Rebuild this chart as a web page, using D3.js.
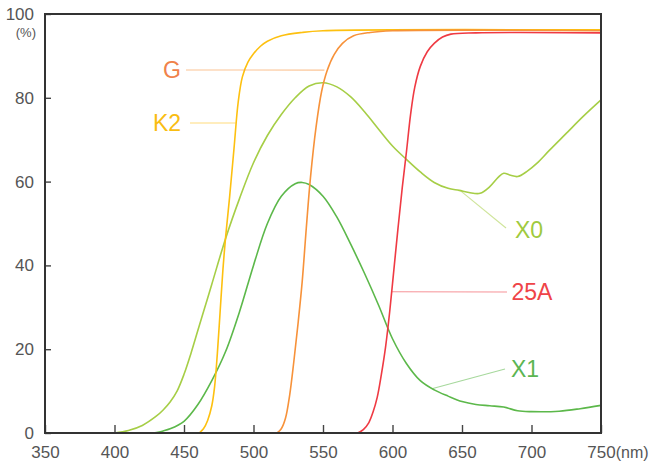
<!DOCTYPE html>
<html>
<head>
<meta charset="utf-8">
<script src="https://cdn.jsdelivr.net/npm/d3@7"></script>
<style>
  body { margin: 0; background: #fff; }
  svg { display: block; font-family: "Liberation Sans", Arial, sans-serif; }
</style>
</head>
<body>
<script>
// transmittance curves, [wavelength nm, %]
var seriesX0 = [[400,0],[410,0.6],[420,1.8],[430,4],[435,5.5],[440,7.4],[445,10],[450,14],[455,19],[460,24.5],[465,30],[470,35.5],[480,46.5],[490,56],[500,64.5],[510,71],[520,76],[530,80],[540,82.8],[550,83.6],[560,82.6],[570,80.2],[580,76.6],[590,72.5],[600,68.5],[610,65.3],[620,62.3],[630,59.8],[640,58.4],[648,57.9],[655,57.4],[663,57.2],[670,58.8],[676,61],[680,62],[685,61.5],[690,61.2],[697,62.5],[704,64.4],[713,67.5],[725,71.5],[737,75.5],[750,79.5]];
var seriesX1 = [[428,0],[435,0.5],[440,1],[450,2.8],[460,6.8],[470,12.5],[480,19.5],[490,29],[500,40],[510,50],[520,56.5],[530,59.5],[535,59.8],[540,59.3],[550,56.5],[560,51.5],[570,45],[580,38],[590,30.5],[600,22.5],[610,16.6],[620,12.5],[630,10.3],[640,8.8],[650,7.5],[660,6.8],[670,6.5],[680,6.2],[690,5.3],[700,5.1],[720,5.2],[735,5.8],[750,6.6]];
var seriesK2 = [[461,0],[464,1],[467,3],[470,6.5],[472,11],[474,19],[476,29],[478,39],[480,47],[483,57],[486,68],[489,79],[492,85],[496,88.5],[500,90.5],[505,92.3],[510,93.5],[520,94.8],[535,95.6],[550,96],[750,96.2]];
var seriesG = [[517,0],[520,1],[523,3.5],[526,9],[529,17],[532,26],[535,36],[538,49],[541,61],[545,73],[549,81.5],[553,86.5],[558,90.3],[564,93],[572,94.8],[584,95.6],[600,96],[750,96]];
var series25A = [[575,0],[579,0.8],[583,2.5],[586,5],[589,8.5],[592,14],[595,20.5],[598,29],[601,39],[604,49],[607,58.5],[610,67],[613,76],[616,82.5],[620,87.5],[625,91],[630,93],[636,94.5],[642,95.2],[660,95.5],[750,95.5]];

var seriesNames = ["X0", "X1", "K2", "G", "25A"];
var xTicks = [350, 400, 450, 500, 550, 600, 650, 700, 750];
var yTicks = [0, 20, 40, 60, 80, 100];

var width = 661, height = 467;

var svg = d3.select("body").append("svg")
    .attr("width", width)
    .attr("height", height);

var x = d3.scaleLinear().domain([350, 750]).range([45, 601]);
var y = d3.scaleLinear().domain([0, 100]).range([433, 14]);

var colors = {
    "X0": "#a6ce46",
    "X1": "#5cb84a",
    "K2": "#fdc010",
    "G": "#f7923a",
    "25A": "#ef3a43"
};
var textColors = {
    "X0": "#9fca3e",
    "X1": "#5bb552",
    "K2": "#f9bd12",
    "G": "#f0824a",
    "25A": "#ef4448"
};
var dataByName = { "X0": seriesX0, "X1": seriesX1, "K2": seriesK2, "G": seriesG, "25A": series25A };

// axes
var xAxis = d3.axisBottom(x).tickValues(xTicks).tickSizeInner(-8).tickSizeOuter(0).tickPadding(13);
var yAxis = d3.axisLeft(y).tickValues(yTicks).tickSizeInner(-6).tickSizeOuter(0).tickPadding(11);

var gx = svg.append("g").attr("transform", "translate(0,433)").call(xAxis);
var gy = svg.append("g").attr("transform", "translate(45,0)").call(yAxis);

[gx, gy].forEach(function(g) {
    g.select(".domain").remove();
    g.selectAll(".tick line").attr("stroke", "#444").attr("stroke-width", 1.4);
    g.selectAll(".tick text").attr("fill", "#555").style("font-size", "17px");
});

// "750(nm)" : keep 750 centred on its tick, unit follows
gx.selectAll(".tick text")
    .filter(function(d) { return d === 750; })
    .attr("text-anchor", "start")
    .attr("x", -14.2)
    .append("tspan")
    .style("font-size", "16px")
    .text("(nm)");

svg.append("text")
    .attr("x", 36)
    .attr("y", 37)
    .attr("text-anchor", "end")
    .attr("fill", "#555")
    .style("font-size", "13px")
    .text("(%)");

// curves
var line = d3.line()
    .x(function(d) { return x(d[0]); })
    .y(function(d) { return y(d[1]); })
    .curve(d3.curveCatmullRom.alpha(0.5));

svg.append("g").selectAll("path")
    .data(seriesNames)
    .enter().append("path")
    .attr("d", function(n) { return line(dataByName[n]); })
    .attr("fill", "none")
    .attr("stroke", function(n) { return colors[n]; })
    .attr("stroke-width", 1.6);

// labels with leader lines
var labels = [
    { name: "G",   tx: 172, ty: 70,  lx: 186, ly: 70,  nm: 551,   v: 86.6 },
    { name: "K2",  tx: 167, ty: 123, lx: 190, ly: 123, nm: 487,   v: 74 },
    { name: "X0",  tx: 529, ty: 230, lx: 506, ly: 228, nm: 649,   v: 57.8 },
    { name: "25A", tx: 532, ty: 292, lx: 507, ly: 292, nm: 599.5, v: 33.7 },
    { name: "X1",  tx: 525, ty: 369, lx: 505, ly: 369, nm: 629,   v: 10.6 }
];

var lg = svg.append("g");
lg.selectAll("line")
    .data(labels)
    .enter().append("line")
    .attr("x1", function(d) { return d.lx; })
    .attr("y1", function(d) { return d.ly; })
    .attr("x2", function(d) { return x(d.nm); })
    .attr("y2", function(d) { return y(d.v); })
    .attr("stroke", function(d) { return colors[d.name]; })
    .attr("stroke-opacity", 0.55)
    .attr("stroke-width", 1.1);

lg.selectAll("text")
    .data(labels)
    .enter().append("text")
    .attr("x", function(d) { return d.tx; })
    .attr("y", function(d) { return d.ty; })
    .attr("dy", "0.36em")
    .attr("text-anchor", "middle")
    .attr("fill", function(d) { return textColors[d.name]; })
    .style("font-size", "23px")
    .text(function(d) { return d.name; });

// frame
svg.append("rect")
    .attr("x", 45)
    .attr("y", 14)
    .attr("width", 556)
    .attr("height", 419)
    .attr("fill", "none")
    .attr("stroke", "#333")
    .attr("stroke-width", 2);
</script>
</body>
</html>
